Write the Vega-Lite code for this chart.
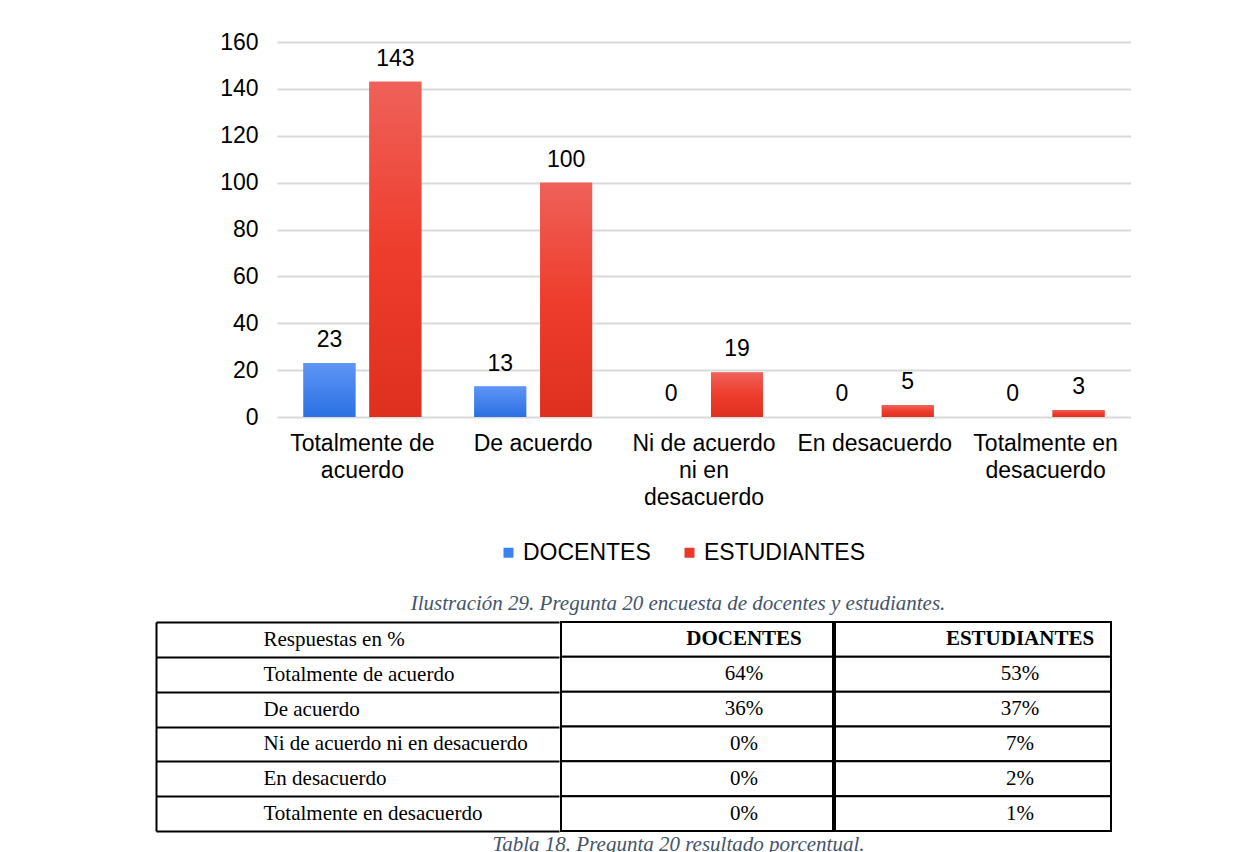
{
  "$schema": "https://vega.github.io/schema/vega-lite/v6.json",
  "background": "white",
  "padding": {"left": 155, "top": 31, "right": 0, "bottom": 0},
  "datasets": {
    "grafico": [
      {"respuesta": "Totalmente de acuerdo", "serie": "DOCENTES", "valor": 23},
      {"respuesta": "Totalmente de acuerdo", "serie": "ESTUDIANTES", "valor": 143},
      {"respuesta": "De acuerdo", "serie": "DOCENTES", "valor": 13},
      {"respuesta": "De acuerdo", "serie": "ESTUDIANTES", "valor": 100},
      {"respuesta": "Ni de acuerdo ni en desacuerdo", "serie": "DOCENTES", "valor": 0},
      {"respuesta": "Ni de acuerdo ni en desacuerdo", "serie": "ESTUDIANTES", "valor": 19},
      {"respuesta": "En desacuerdo", "serie": "DOCENTES", "valor": 0},
      {"respuesta": "En desacuerdo", "serie": "ESTUDIANTES", "valor": 5},
      {"respuesta": "Totalmente en desacuerdo", "serie": "DOCENTES", "valor": 0},
      {"respuesta": "Totalmente en desacuerdo", "serie": "ESTUDIANTES", "valor": 3}
    ],
    "tabla": [
      {"fila": "Respuestas en %", "DOCENTES": "DOCENTES", "ESTUDIANTES": "ESTUDIANTES"},
      {"fila": "Totalmente de acuerdo", "DOCENTES": "64%", "ESTUDIANTES": "53%"},
      {"fila": "De acuerdo", "DOCENTES": "36%", "ESTUDIANTES": "37%"},
      {"fila": "Ni de acuerdo ni en desacuerdo", "DOCENTES": "0%", "ESTUDIANTES": "7%"},
      {"fila": "En desacuerdo", "DOCENTES": "0%", "ESTUDIANTES": "2%"},
      {"fila": "Totalmente en desacuerdo", "DOCENTES": "0%", "ESTUDIANTES": "1%"}
    ]
  },
  "config": {
    "view": {"stroke": null},
    "font": "Liberation Sans"
  },
  "vconcat": [
    {
      "width": 854,
      "height": 375,
      "data": {"name": "grafico"},
      "title": {
        "text": "Ilustración 29. Pregunta 20 encuesta de docentes y estudiantes.",
        "orient": "bottom",
        "anchor": "middle",
        "frame": "group",
        "dx": -26,
        "offset": 84,
        "font": "Liberation Serif",
        "fontStyle": "italic",
        "fontWeight": "normal",
        "fontSize": 21,
        "color": "#44546a"
      },
      "encoding": {
        "x": {
          "field": "respuesta",
          "type": "nominal",
          "sort": ["Totalmente de acuerdo", "De acuerdo", "Ni de acuerdo ni en desacuerdo", "En desacuerdo", "Totalmente en desacuerdo"],
          "scale": {"paddingInner": 0.31, "paddingOuter": 0.155},
          "axis": {
            "title": null,
            "domain": false,
            "ticks": false,
            "grid": false,
            "labelAngle": 0,
            "labelFont": "Liberation Sans",
            "labelFontSize": 23,
            "labelColor": "#000000",
            "labelPadding": 15,
            "labelLineHeight": 27,
            "labelOverlap": false,
            "labelBound": false,
            "labelLimit": 400,
            "labelExpr": "datum.value == 'Totalmente de acuerdo' ? ['Totalmente de', 'acuerdo'] : datum.value == 'Ni de acuerdo ni en desacuerdo' ? ['Ni de acuerdo', 'ni en', 'desacuerdo'] : datum.value == 'Totalmente en desacuerdo' ? ['Totalmente en', 'desacuerdo'] : datum.value"
          }
        },
        "xOffset": {
          "field": "serie",
          "type": "nominal",
          "sort": ["DOCENTES", "ESTUDIANTES"],
          "scale": {"paddingInner": 0.212, "paddingOuter": 0}
        },
        "y": {
          "field": "valor",
          "type": "quantitative",
          "scale": {"domain": [0, 160], "nice": false},
          "axis": {
            "title": null,
            "values": [0, 20, 40, 60, 80, 100, 120, 140, 160],
            "domain": false,
            "ticks": false,
            "labelFont": "Liberation Sans",
            "labelFontSize": 23,
            "labelColor": "#000000",
            "labelPadding": 19,
            "gridColor": "#d9d9d9",
            "gridWidth": 2
          }
        }
      },
      "layer": [
        {
          "mark": {"type": "bar"},
          "encoding": {
            "color": {
              "field": "serie",
              "type": "nominal",
              "scale": {"domain": ["DOCENTES", "ESTUDIANTES"], "range": ["#3d83f0", "#e8392b"]},
              "legend": {
                "title": null,
                "orient": "none",
                "legendX": 220,
                "legendY": 499,
                "direction": "horizontal",
                "symbolType": "square",
                "symbolSize": 100,
                "symbolStrokeWidth": 0,
                "labelFont": "Liberation Sans",
                "labelFontSize": 23,
                "labelColor": "#000000",
                "labelOffset": 3,
                "labelLimit": 400,
                "columnPadding": 27
              }
            }
          }
        },
        {
          "transform": [{"filter": "datum.serie == 'DOCENTES'"}],
          "mark": {
            "type": "bar",
            "color": {
              "gradient": "linear", "x1": 0, "y1": 0, "x2": 0, "y2": 1,
              "stops": [{"offset": 0, "color": "#5f95f5"}, {"offset": 1, "color": "#2a70e2"}]
            }
          },
          "encoding": {}
        },
        {
          "transform": [{"filter": "datum.serie == 'ESTUDIANTES'"}],
          "mark": {
            "type": "bar",
            "color": {
              "gradient": "linear", "x1": 0, "y1": 0, "x2": 0, "y2": 1,
              "stops": [{"offset": 0, "color": "#ef6159"}, {"offset": 0.5, "color": "#ee3d2d"}, {"offset": 1, "color": "#df2f1f"}]
            }
          },
          "encoding": {}
        },
        {
          "mark": {"type": "text", "baseline": "alphabetic", "dy": -16, "fontSize": 23, "font": "Liberation Sans", "color": "#000000"},
          "encoding": {"text": {"field": "valor", "type": "quantitative"}}
        }
      ]
    },
    {
      "data": {"name": "tabla"},
      "spacing": 0,
      "title": {
        "text": "Tabla 18. Pregunta 20 resultado porcentual.",
        "orient": "bottom",
        "anchor": "middle",
        "dx": 45,
        "offset": 2,
        "font": "Liberation Serif",
        "fontStyle": "italic",
        "fontWeight": "normal",
        "fontSize": 21,
        "color": "#44546a"
      },
      "hconcat": [
        {
          "width": 281,
          "height": 209,
          "mark": {"type": "rect", "opacity": 0},
          "encoding": {
            "y": {
              "field": "fila", "type": "nominal", "sort": null,
              "scale": {"paddingInner": 0, "paddingOuter": 0},
              "axis": {
                "title": null,
                "orient": "left",
                "offset": 121,
                "grid": false,
                "domain": true,
                "domainColor": "#000000",
                "domainWidth": 2,
                "ticks": true,
                "tickSize": -403,
                "tickColor": "#000000",
                "tickWidth": 2,
                "tickBand": "extent",
                "labelAlign": "left",
                "labelBaseline": "middle",
                "labelPadding": 296,
                "labelFont": "Liberation Serif",
                "labelFontSize": 21,
                "labelColor": "#000000",
                "labelLimit": 0
              }
            }
          }
        },
        {
          "width": 272,
          "height": 209,
          "encoding": {
            "y": {
              "field": "fila", "type": "nominal", "sort": null,
              "scale": {"paddingInner": 0, "paddingOuter": 0},
              "axis": null
            }
          },
          "layer": [
            {"mark": {"type": "rect", "fill": "white", "stroke": "black", "strokeWidth": 2}, "encoding": {}},
            {
              "transform": [{"filter": "datum.fila != 'Respuestas en %'"}],
              "mark": {"type": "text", "align": "center", "dx": 47, "font": "Liberation Serif", "fontSize": 21, "color": "#000000"},
              "encoding": {"text": {"field": "DOCENTES", "type": "nominal"}}
            },
            {
              "transform": [{"filter": "datum.fila == 'Respuestas en %'"}],
              "mark": {"type": "text", "align": "center", "dx": 47, "font": "Liberation Serif", "fontSize": 21, "fontWeight": "bold", "color": "#000000"},
              "encoding": {"text": {"field": "DOCENTES", "type": "nominal"}}
            }
          ]
        },
        {
          "width": 276,
          "height": 209,
          "encoding": {
            "y": {
              "field": "fila", "type": "nominal", "sort": null,
              "scale": {"paddingInner": 0, "paddingOuter": 0},
              "axis": null
            }
          },
          "layer": [
            {"mark": {"type": "rect", "fill": "white", "stroke": "black", "strokeWidth": 2}, "encoding": {}},
            {
              "transform": [{"filter": "datum.fila != 'Respuestas en %'"}],
              "mark": {"type": "text", "align": "center", "dx": 47, "font": "Liberation Serif", "fontSize": 21, "color": "#000000"},
              "encoding": {"text": {"field": "ESTUDIANTES", "type": "nominal"}}
            },
            {
              "transform": [{"filter": "datum.fila == 'Respuestas en %'"}],
              "mark": {"type": "text", "align": "center", "dx": 47, "font": "Liberation Serif", "fontSize": 21, "fontWeight": "bold", "color": "#000000"},
              "encoding": {"text": {"field": "ESTUDIANTES", "type": "nominal"}}
            }
          ]
        }
      ]
    }
  ],
  "spacing": -3
}
